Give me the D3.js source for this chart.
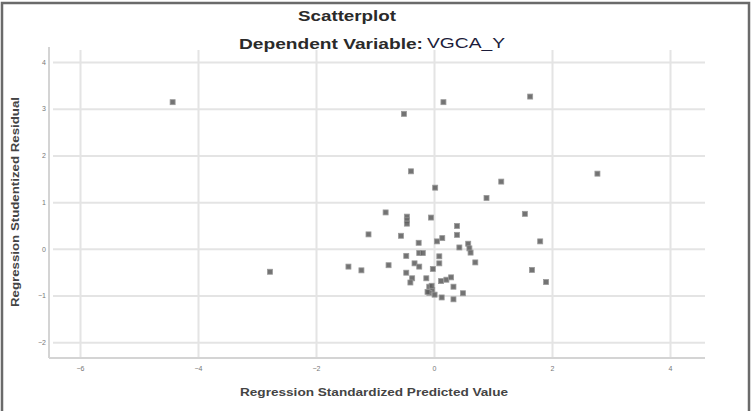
<!DOCTYPE html>
<html>
<head>
<meta charset="utf-8">
<script src="https://cdn.jsdelivr.net/npm/d3@7"></script>
<style>
  html, body { margin: 0; padding: 0; background: #fff; }
  svg { display: block; }
</style>
</head>
<body>
<svg id="chart" width="752" height="411"></svg>
<script>
// ---- Data ----
const titleText = "Scatterplot";
const subtitleLabel = "Dependent Variable:";
const subtitleVar = "VGCA_Y";
const xAxisTitle = "Regression Standardized Predicted Value";
const yAxisTitle = "Regression Studentized Residual";

const xTicks = [-6, -4, -2, 0, 2, 4];
const yTicks = [-2, -1, 0, 1, 2, 3, 4];

const predicted = [
  -4.43, -2.78, -0.51, 0.16, 1.63, -0.39, 2.77, 1.14, 0.02, 0.89,
  -0.82, -0.46, -0.46, -0.46, -0.05, 1.54, 0.39, 0.39, -1.11, -0.56,
  1.80, -0.26, 0.05, 0.14, 0.43, 0.58, 0.60, 0.62, -0.25, -0.19,
  -0.47, 0.09, 0.09, 0.70, -1.45, -1.23, -0.77, -0.33, -0.25, -0.02,
  1.66, -0.47, -0.37, -0.40, -0.13, 0.12, 0.21, 0.29, 1.90, 0.33,
  -0.08, -0.03, -0.08, 0.01, -0.11, -0.04, 0.49, 0.13, 0.33
];
const residual = [
  3.14, -0.49, 2.89, 3.14, 3.26, 1.66, 1.61, 1.44, 1.31, 1.09,
  0.78, 0.69, 0.61, 0.54, 0.67, 0.75, 0.49, 0.30, 0.31, 0.28,
  0.16, 0.13, 0.16, 0.23, 0.03, 0.11, 0.01, -0.08, -0.09, -0.09,
  -0.15, -0.16, -0.31, -0.29, -0.38, -0.46, -0.35, -0.31, -0.38, -0.43,
  -0.45, -0.51, -0.63, -0.72, -0.63, -0.69, -0.66, -0.61, -0.71, -0.81,
  -0.81, -0.88, -0.94, -0.98, -0.92, -0.79, -0.95, -1.04, -1.08
];

// ---- Layout ----
const svg = d3.select("#chart");
const plot = { left: 49, right: 705, top: 47, bottom: 358 };

const x = d3.scaleLinear().domain([-6, 4]).range([80, 670]);
const y = d3.scaleLinear().domain([-2, 4]).range([342.3, 62]);

// outer frame
svg.append("rect")
  .attr("x", 2).attr("y", 3).attr("width", 747).attr("height", 420)
  .attr("fill", "none").attr("stroke", "#6a6a6a").attr("stroke-width", 2.5);

// vertical gridlines + x tick labels
const xAxis = d3.axisBottom(x).tickValues(xTicks)
  .tickSize(-(plot.bottom - 50)).tickPadding(8).tickFormat(d3.format("d"));
const gx = svg.append("g").attr("transform", `translate(0,${plot.bottom})`).call(xAxis);
gx.select(".domain").remove();
gx.selectAll(".tick line").attr("stroke", "#e4e4e4").attr("stroke-width", 2);
gx.selectAll(".tick text").attr("fill", "#777").attr("font-size", 7)
  .attr("font-family", "Liberation Sans, Arial, sans-serif");

// horizontal gridlines + y tick labels
const yAxis = d3.axisLeft(y).tickValues(yTicks)
  .tickSize(-(plot.right - 53)).tickPadding(7).tickFormat(d3.format("d"));
const gy = svg.append("g").attr("transform", `translate(53,0)`).call(yAxis);
gy.select(".domain").remove();
gy.selectAll(".tick line").attr("stroke", "#e4e4e4").attr("stroke-width", 2);
gy.selectAll(".tick text").attr("fill", "#777").attr("font-size", 7)
  .attr("font-family", "Liberation Sans, Arial, sans-serif");

// axis lines
svg.append("line").attr("x1", plot.left).attr("x2", plot.left)
  .attr("y1", plot.top).attr("y2", plot.bottom)
  .attr("stroke", "#d4d4d4").attr("stroke-width", 2);
svg.append("line").attr("x1", plot.left).attr("x2", plot.right)
  .attr("y1", plot.bottom).attr("y2", plot.bottom)
  .attr("stroke", "#d4d4d4").attr("stroke-width", 2);

// points
const pts = predicted.map((p, i) => ({ p, r: residual[i] }));
svg.append("g").selectAll("rect").data(pts).join("rect")
  .attr("x", d => x(d.p) - 2.5).attr("y", d => y(d.r) - 2.5)
  .attr("width", 5).attr("height", 5)
  .attr("fill", "#5a5a5a").attr("fill-opacity", 0.85)
  .attr("stroke", "#9a9a9a").attr("stroke-width", 0.8);

// titles
const font = "Liberation Sans, Arial, sans-serif";
svg.append("text").text(titleText)
  .attr("x", 347).attr("y", 21).attr("text-anchor", "middle")
  .attr("font-family", font).attr("font-weight", "bold").attr("font-size", 15)
  .attr("fill", "#2a2a2a").attr("textLength", 98).attr("lengthAdjust", "spacingAndGlyphs");

svg.append("text").text(subtitleLabel)
  .attr("x", 239).attr("y", 49)
  .attr("font-family", font).attr("font-weight", "bold").attr("font-size", 15)
  .attr("fill", "#2a2a2a").attr("textLength", 184).attr("lengthAdjust", "spacingAndGlyphs");
svg.append("text").text(subtitleVar)
  .attr("x", 427).attr("y", 48)
  .attr("font-family", font).attr("font-size", 14)
  .attr("fill", "#1c1c3a").attr("textLength", 78).attr("lengthAdjust", "spacingAndGlyphs");

svg.append("text").text(xAxisTitle)
  .attr("x", 374).attr("y", 396).attr("text-anchor", "middle")
  .attr("font-family", font).attr("font-weight", "bold").attr("font-size", 11)
  .attr("fill", "#444").attr("textLength", 268).attr("lengthAdjust", "spacingAndGlyphs");

svg.append("text").text(yAxisTitle)
  .attr("transform", "translate(19,202) rotate(-90)").attr("text-anchor", "middle")
  .attr("font-family", font).attr("font-weight", "bold").attr("font-size", 11)
  .attr("fill", "#444").attr("textLength", 210).attr("lengthAdjust", "spacingAndGlyphs");
</script>
</body>
</html>
